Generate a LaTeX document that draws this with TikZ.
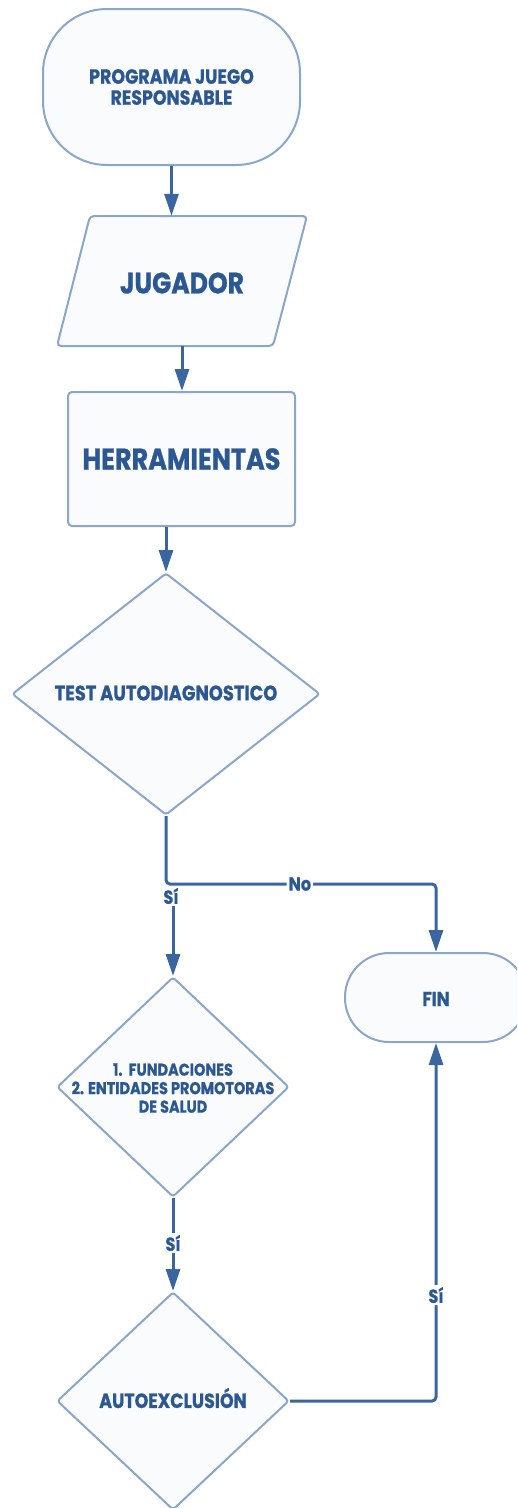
\documentclass[tikz,border=0pt]{standalone}
\usepackage{fontspec}
\setmainfont{Poppins}[FakeStretch=0.85, BoldFeatures={FakeBold=0.8}]
\usetikzlibrary{shapes.geometric,arrows.meta,calc}
\definecolor{txtblue}{HTML}{2B5792}
\definecolor{lineblue}{HTML}{3A659E}
\definecolor{edgeblue}{HTML}{8AA6CB}
\definecolor{boxfill}{HTML}{FAFBFD}
\tikzset{
  box/.style={draw=edgeblue, line width=2pt, fill=boxfill},
  txt/.style={text=txtblue, font=\bfseries, align=center, inner sep=0pt},
  conn/.style={draw=lineblue, line width=3pt, rounded corners=4pt},
  arr/.style={conn, -{Triangle[length=22pt,width=14pt]}},
  lbl/.style={txt, fill=white, inner sep=2pt, font=\bfseries\fontsize{19}{19}\selectfont},
  dia/.style={box, shape=diamond, inner sep=0pt, rounded corners=3pt},
}
\begin{document}
\begin{tikzpicture}[x=1pt,y=-1pt]
\useasboundingbox (0,0) rectangle (517,1508);
\clip (0,0) rectangle (517,1508);
% start terminator
\node[box, rounded corners=64pt, minimum width=257pt, minimum height=156pt, inner sep=0pt] (start) at (171.5,87) {};
\node[txt, font=\bfseries\fontsize{20.5}{21}\selectfont] (starttxt) at (171.5,87) {PROGRAMA JUEGO\\RESPONSABLE};
% jugador parallelogram
\node[minimum width=217pt, minimum height=130pt, inner sep=0pt] (jug) at (182,281) {};
\draw[box, rounded corners=4pt] ($(jug.center)+(-92,-65)$) -- ($(jug.center)+(125,-65)$) -- ($(jug.center)+(91,65)$) -- ($(jug.center)+(-125,65)$) -- cycle;
\node[txt, font=\bfseries\fontsize{29.5}{29.5}\selectfont] (jugtxt) at (182,283) {JUGADOR};
% herramientas
\node[box, rounded corners=4pt, minimum width=227pt, minimum height=134pt, inner sep=0pt] (herr) at (181.5,459) {};
\node[txt, font=\bfseries\fontsize{30}{30}\selectfont] (herrtxt) at (181.5,459) {HERRAMIENTAS};
% diamond 1
\node[dia, minimum width=308pt, minimum height=242pt] (d1) at (166,694) {};
\node[txt, font=\bfseries\fontsize{21}{21}\selectfont] (d1txt) at (166,693) {TEST AUTODIAGNOSTICO};
% diamond 2
\node[dia, minimum width=232pt, minimum height=220pt] (d2) at (173,1087) {};
\node[txt, font=\bfseries\fontsize{17}{18.5}\selectfont] (d2txt) at (173,1088) {1.\ \ FUNDACIONES\\2. ENTIDADES PROMOTORAS\\DE SALUD};
% diamond 3
\node[dia, minimum width=232pt, minimum height=218pt] (d3) at (173,1401) {};
\node[txt, font=\bfseries\fontsize{20.5}{21}\selectfont] (d3txt) at (173,1398) {AUTOEXCLUSIÓN};
% fin
\node[box, rounded corners=44pt, minimum width=182pt, minimum height=89pt, inner sep=0pt] (fin) at (436,997.5) {};
\node[txt, font=\bfseries\fontsize{20}{20}\selectfont] (fintxt) at (436,999) {FIN};
% connectors
\draw[arr] (start.south) -- (start.south |- jug.north);
\draw[arr] (jug.south) -- (jug.south |- herr.north);
\draw[arr] (d1.north |- herr.south) -- (d1.north);
\coordinate (split) at (166,884);
\draw[arr] (d1.south) -- (split) -| node[lbl, pos=0.248] (nolbl) {No} (fin.north);
\node[lbl] (si1) at (171,896) {Sí};
\draw[arr] (d2.north |- si1.south) -- (d2.north);
\node[lbl] (si2) at (173,1243) {Sí};
\draw[conn] (d2.south) -- (si2.north);
\draw[arr] (si2.south) -- (d3.north);
\draw[arr] (d3.east) -| node[lbl, pos=0.648] (si3) {Sí} (fin.south);
\end{tikzpicture}
\end{document}
